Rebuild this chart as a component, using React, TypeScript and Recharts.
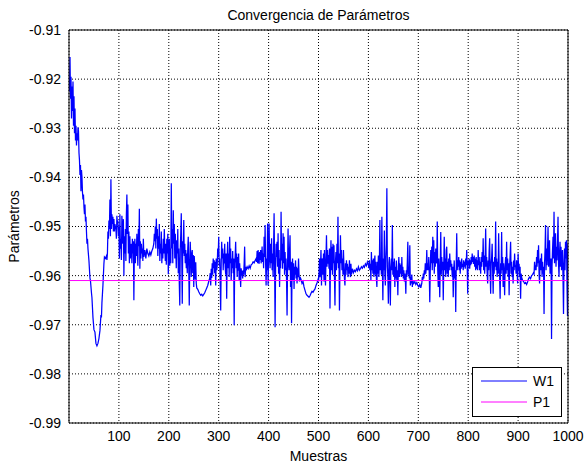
import React from 'react';
import { LineChart, Line, XAxis, YAxis, CartesianGrid } from 'recharts';

const title = 'Convergencia de Parámetros';
const xLabel = 'Muestras';
const yLabel = 'Parámetros';
const legendNames = ['W1', 'P1'];

const xTicks = [100, 200, 300, 400, 500, 600, 700, 800, 900, 1000];
const yTicks = [-0.99, -0.98, -0.97, -0.96, -0.95, -0.94, -0.93, -0.92, -0.91];

const p1Series: [number, number][] = [[1, -0.961], [1000, -0.961]];

const w1Seg1: [number, number][] = [
  [1,-0.9225],[2,-0.9155],[3,-0.924],[4,-0.9195],[5,-0.928],[6,-0.9215],[7,-0.9265],[8,-0.9205],[9,-0.9295],[10,-0.9235],
  [11,-0.931],[12,-0.926],[13,-0.9325],[14,-0.9295],[15,-0.9335],[16,-0.931],[17,-0.9325],[18,-0.9298],[19,-0.9305],[20,-0.935],
  [21,-0.9365],[22,-0.9395],[23,-0.9375],[24,-0.9428],[25,-0.9385],[26,-0.94],[27,-0.943],[28,-0.9445],[29,-0.9435],[30,-0.946],
  [31,-0.9475],[32,-0.9455],[33,-0.949],[34,-0.948],[35,-0.951],[36,-0.9535],[37,-0.9525],[38,-0.9545],[40,-0.957],[42,-0.9605],
  [43,-0.961],[45,-0.9635],[46,-0.9645],[48,-0.9685],[50,-0.971],[52,-0.9715],[54,-0.9738],[56,-0.9743],[58,-0.9738],[60,-0.9728],
  [62,-0.9712],[64,-0.968],[65,-0.9685],[66,-0.9655],[68,-0.962],[70,-0.9575],[71,-0.9562],[73,-0.9565],[75,-0.956],[76,-0.9568],
  [77,-0.9555],[78,-0.951],[79,-0.9525],[80,-0.9488],[81,-0.9505],[82,-0.9445],[83,-0.952],[84,-0.9404],[85,-0.9505],[86,-0.9475],
  [87,-0.9495],[88,-0.948],[89,-0.951],[90,-0.9485],[91,-0.951],[92,-0.9495],[94,-0.9505],[95,-0.9525],[96,-0.9478],[97,-0.9495],
  [98,-0.9488],[99,-0.952],[100,-0.95],[101,-0.9565],[102,-0.9475],[103,-0.9545],[104,-0.9525],[105,-0.9568],[106,-0.9478],[107,-0.951],
  [108,-0.9535],[109,-0.9485],[110,-0.96],[111,-0.952],[112,-0.9555],[113,-0.9505],[114,-0.957],[115,-0.9475],[116,-0.9435],[117,-0.9515],
  [118,-0.9455],[119,-0.9555],[120,-0.951],[121,-0.9575],[122,-0.952],[123,-0.9565],[124,-0.9545],[125,-0.9535],[126,-0.9575],[127,-0.9525],
  [128,-0.9555],[129,-0.953],[130,-0.965],[131,-0.9545],[132,-0.9525],[133,-0.9575],[134,-0.9535],[135,-0.956],[136,-0.9515],[137,-0.9545],
  [138,-0.958],[139,-0.9505],[140,-0.954],[141,-0.9464],[142,-0.9586],[143,-0.953],[144,-0.9565],[145,-0.9535],[146,-0.9555],[147,-0.9545],
  [148,-0.957],[149,-0.9525],[150,-0.9562],[152,-0.9548],[154,-0.9565],[156,-0.9545],[158,-0.9555],[160,-0.956],[162,-0.9552],[164,-0.9558],
  [166,-0.955],[168,-0.9545],[170,-0.9535],[171,-0.9515],[172,-0.953],[173,-0.95],[174,-0.9545],[175,-0.9484],[176,-0.9525],[177,-0.9505],
  [178,-0.956],[179,-0.952],[180,-0.9545],[181,-0.9495],[182,-0.957],[183,-0.9535],[184,-0.9555],[185,-0.951],[186,-0.9575],[187,-0.9545],
  [188,-0.9565],[189,-0.9525],[190,-0.9555],[191,-0.9505],[192,-0.9545],[193,-0.957],[194,-0.9535],[195,-0.9578],[196,-0.9525],[197,-0.9555],
  [198,-0.9515],[199,-0.9597],[200,-0.9545],[201,-0.9525],[202,-0.958],[203,-0.9545],[204,-0.9575],
];

const w1Seg2: [number, number][] = [
  [205,-0.9412],[206,-0.9545],[207,-0.9505],[208,-0.9575],[209,-0.9467],[210,-0.9535],[211,-0.9495],[212,-0.9565],[213,-0.9515],[214,-0.9548],
  [215,-0.9585],[216,-0.9528],[217,-0.9555],[218,-0.9505],[219,-0.9595],[220,-0.9545],[221,-0.9615],[222,-0.9661],[223,-0.9545],[224,-0.9515],
  [225,-0.9473],[226,-0.9565],[227,-0.9657],[228,-0.953],[229,-0.9555],[230,-0.9487],[231,-0.956],[232,-0.9535],[233,-0.9575],[234,-0.9548],
  [235,-0.9585],[236,-0.9555],[237,-0.9595],[238,-0.9545],[239,-0.9521],[240,-0.9585],[241,-0.9661],[242,-0.958],[243,-0.9531],[244,-0.9565],
  [245,-0.9603],[246,-0.9555],[247,-0.9548],[248,-0.9595],[249,-0.9558],[250,-0.9623],[251,-0.956],[252,-0.9582],[253,-0.9608],[254,-0.9573],
  [255,-0.9615],[256,-0.9625],[258,-0.9628],[260,-0.9633],[262,-0.9637],[264,-0.964],[266,-0.9638],[268,-0.9641],[270,-0.9638],[272,-0.9635],
  [274,-0.963],[276,-0.9625],[278,-0.962],[280,-0.9612],[282,-0.9605],[283,-0.9595],[284,-0.962],[285,-0.9586],[286,-0.9605],[287,-0.9575],
  [288,-0.9598],[289,-0.9565],[290,-0.9585],[291,-0.9569],[292,-0.9595],[293,-0.9572],[294,-0.962],[295,-0.9565],[296,-0.9589],[297,-0.958],
  [298,-0.9545],[299,-0.9562],[300,-0.9521],[301,-0.958],[302,-0.9565],[303,-0.9615],[304,-0.9671],[305,-0.9575],[306,-0.9531],[307,-0.9565],
  [308,-0.9545],[309,-0.9589],[310,-0.9555],[311,-0.9575],[312,-0.9535],[313,-0.9582],[314,-0.9598],[315,-0.9555],[316,-0.9647],[317,-0.9565],
  [318,-0.9531],[319,-0.9585],[320,-0.9555],[321,-0.9603],[322,-0.9521],[323,-0.9575],[324,-0.9545],[325,-0.961],[326,-0.9565],[327,-0.9585],
  [328,-0.955],[329,-0.9595],[330,-0.9565],[331,-0.9701],[332,-0.9575],[333,-0.956],[334,-0.9531],[335,-0.9585],[336,-0.9555],[337,-0.9603],
  [338,-0.9562],[339,-0.959],[340,-0.9555],[341,-0.961],[342,-0.9575],[343,-0.9598],[344,-0.9623],[345,-0.9585],[346,-0.96],[347,-0.959],
  [348,-0.9606],[349,-0.9589],[350,-0.9598],[351,-0.9575],[352,-0.9541],[353,-0.9603],[354,-0.9582],[355,-0.9589],[357,-0.9582],[359,-0.9586],
  [361,-0.958],[363,-0.9585],[365,-0.9578],[367,-0.9576],[369,-0.9572],[371,-0.9574],[373,-0.9569],[375,-0.9565],[376,-0.9572],[377,-0.955],
  [378,-0.9575],[379,-0.9548],[380,-0.9569],[381,-0.9576],[382,-0.9552],[383,-0.9568],[384,-0.9548],[385,-0.9575],[386,-0.9562],[387,-0.9541],
  [388,-0.9572],[389,-0.9555],[390,-0.9585],[391,-0.9521],[392,-0.9562],[393,-0.9497],[394,-0.9575],[395,-0.962],[396,-0.9565],
];

const w1Seg3: [number, number][] = [
  [397,-0.9589],[398,-0.9494],[399,-0.962],[400,-0.9555],[401,-0.9494],[402,-0.9565],[403,-0.9585],[404,-0.9535],[405,-0.9575],[406,-0.9524],
  [407,-0.9589],[408,-0.9555],[409,-0.9603],[410,-0.9545],[411,-0.9473],[412,-0.9575],[413,-0.9705],[414,-0.9589],[415,-0.9535],[416,-0.9562],
  [417,-0.9531],[418,-0.9582],[419,-0.9514],[420,-0.9596],[421,-0.9548],[422,-0.9623],[423,-0.9565],[424,-0.9585],[425,-0.947],[426,-0.9569],
  [427,-0.9535],[428,-0.9586],[429,-0.9514],[430,-0.9575],[431,-0.9521],[432,-0.9598],[433,-0.9552],[434,-0.9589],[435,-0.9565],[436,-0.9612],
  [437,-0.9681],[438,-0.9582],[439,-0.9504],[440,-0.9575],[441,-0.9589],[442,-0.9548],[443,-0.9518],[444,-0.9623],[445,-0.9572],[446,-0.9697],
  [447,-0.9589],[448,-0.9565],[449,-0.961],[450,-0.9575],[451,-0.9627],[452,-0.9582],[453,-0.9598],[454,-0.9569],[455,-0.9606],[456,-0.9582],
  [457,-0.9616],[458,-0.9585],[459,-0.9603],[460,-0.9565],[461,-0.9598],[462,-0.9612],[463,-0.9603],[465,-0.9608],[467,-0.9616],[469,-0.9612],
  [471,-0.9623],[473,-0.963],[475,-0.9637],[477,-0.964],[479,-0.9642],[481,-0.9644],[483,-0.9641],[485,-0.9636],[487,-0.9632],[489,-0.9634],
  [491,-0.963],[493,-0.9627],[495,-0.962],[497,-0.9615],[499,-0.9608],[500,-0.9612],[501,-0.9596],[502,-0.9565],[503,-0.9603],[504,-0.9582],
  [505,-0.9548],[506,-0.962],[507,-0.9572],[508,-0.9565],[509,-0.9598],[510,-0.9555],[511,-0.9612],[512,-0.9548],[513,-0.9589],[514,-0.962],
  [515,-0.9565],[516,-0.9518],[517,-0.9582],[518,-0.9548],[519,-0.9576],[520,-0.9558],[521,-0.9586],[522,-0.9545],[523,-0.9667],[524,-0.9572],
  [525,-0.9528],[526,-0.9589],[527,-0.9541],[528,-0.9598],[529,-0.9535],[530,-0.9575],[531,-0.9538],[532,-0.9603],[533,-0.9661],[534,-0.9572],
  [535,-0.9552],[536,-0.9589],[537,-0.9535],[538,-0.9575],[539,-0.948],[540,-0.9585],[541,-0.9555],[542,-0.9671],[543,-0.9582],[544,-0.9518],
  [545,-0.9575],[546,-0.9548],[547,-0.9589],[548,-0.9565],[549,-0.9598],[550,-0.9548],[551,-0.9582],[552,-0.9606],[553,-0.962],[554,-0.9575],
  [555,-0.9598],[556,-0.9569],[557,-0.9589],[558,-0.9576],[559,-0.9603],[560,-0.9582],[561,-0.9596],[562,-0.9569],[563,-0.9589],[564,-0.9603],
  [565,-0.9576],[566,-0.9598],[568,-0.9586],[570,-0.9594],[572,-0.9589],[574,-0.9592],[576,-0.9586],[578,-0.959],[580,-0.9582],[582,-0.9589],
  [584,-0.9586],[586,-0.9582],[588,-0.9585],[590,-0.958],[592,-0.9583],[594,-0.9576],[596,-0.958],[598,-0.9572],
];

const w1Seg4: [number, number][] = [
  [600,-0.9578],[601,-0.9585],[602,-0.9569],[603,-0.9589],[604,-0.9576],[605,-0.961],[606,-0.9552],[607,-0.9589],[608,-0.9569],[609,-0.9596],
  [610,-0.9565],[611,-0.9603],[612,-0.9575],[613,-0.9559],[614,-0.9598],[615,-0.9572],[616,-0.9606],[617,-0.9623],[618,-0.9572],[619,-0.9596],
  [620,-0.9559],[621,-0.9603],[622,-0.9575],[623,-0.9487],[624,-0.9589],[625,-0.9565],[626,-0.9598],[627,-0.948],[628,-0.9582],[629,-0.965],
  [630,-0.9565],[631,-0.9589],[632,-0.9508],[633,-0.9598],[634,-0.962],[635,-0.9565],[636,-0.9535],[637,-0.9422],[638,-0.9582],[639,-0.9603],
  [640,-0.9657],[641,-0.9575],[642,-0.9562],[643,-0.961],[644,-0.9661],[645,-0.9582],[646,-0.9565],[647,-0.9589],[648,-0.9497],[649,-0.9598],
  [650,-0.9572],[651,-0.9603],[652,-0.9565],[653,-0.9623],[654,-0.9582],[655,-0.9606],[656,-0.9569],[657,-0.9612],[658,-0.9589],[659,-0.964],
  [660,-0.9582],[661,-0.9562],[662,-0.9603],[663,-0.9575],[664,-0.9596],[665,-0.9578],[666,-0.9603],[667,-0.9562],[668,-0.9598],[669,-0.9582],
  [670,-0.9606],[671,-0.9589],[672,-0.9612],[673,-0.9596],[674,-0.9606],[675,-0.9637],[676,-0.9589],[677,-0.9603],[678,-0.9572],[679,-0.9531],
  [680,-0.9598],[681,-0.9582],[682,-0.9606],[683,-0.9538],[684,-0.962],[685,-0.9603],[686,-0.9616],[687,-0.9598],[688,-0.9623],[689,-0.961],
  [691,-0.9616],[693,-0.9612],[695,-0.9618],[697,-0.9614],[699,-0.962],[701,-0.9623],[703,-0.9618],[705,-0.9625],[707,-0.9616],[708,-0.9603],
  [709,-0.961],[710,-0.9596],[711,-0.9606],[712,-0.9589],[713,-0.9598],[714,-0.9575],[715,-0.9596],[716,-0.9582],[717,-0.9548],[718,-0.9589],
  [719,-0.9575],[720,-0.9589],[721,-0.9562],[722,-0.9598],[723,-0.9654],[724,-0.9589],[725,-0.9548],[726,-0.9575],[727,-0.9541],[728,-0.9589],
  [729,-0.9521],[730,-0.9575],[731,-0.9528],[732,-0.9596],[733,-0.9552],[734,-0.9582],[735,-0.9545],[736,-0.9569],[737,-0.9575],[738,-0.949],
  [739,-0.9589],[740,-0.9623],[741,-0.9565],[742,-0.9596],[743,-0.9644],[744,-0.9575],[745,-0.9511],[746,-0.9598],[747,-0.9562],[748,-0.9589],
  [749,-0.9572],[750,-0.965],[751,-0.9582],[752,-0.9521],[753,-0.9589],[754,-0.9565],[755,-0.9603],[756,-0.9548],[757,-0.9541],[758,-0.9596],
  [759,-0.9572],[760,-0.9603],[761,-0.9565],[762,-0.9589],[763,-0.9555],[764,-0.9582],[765,-0.9569],[766,-0.9589],[767,-0.9576],[768,-0.9603],
  [769,-0.9582],[770,-0.9644],[771,-0.9589],[772,-0.9569],[773,-0.9606],[774,-0.9589],[775,-0.9674],[776,-0.9582],[777,-0.9514],[778,-0.9589],
  [779,-0.9569],[780,-0.9582],[781,-0.9562],[782,-0.9589],[783,-0.9569],[784,-0.9596],[785,-0.9572],[786,-0.9586],[787,-0.9565],[788,-0.9582],
  [789,-0.9576],[790,-0.9589],[791,-0.9569],[792,-0.9582],[793,-0.9572],[794,-0.9586],[795,-0.9565],[796,-0.9579],[797,-0.9548],[798,-0.9582],
  [799,-0.9637],
];

const w1Seg5: [number, number][] = [
  [800,-0.9569],[801,-0.9579],[802,-0.9565],[803,-0.9586],[804,-0.9569],[805,-0.9579],[806,-0.9562],[807,-0.9576],[808,-0.9555],[809,-0.9572],
  [810,-0.9562],[811,-0.9576],[812,-0.9559],[813,-0.9582],[814,-0.9565],[815,-0.9589],[816,-0.9562],[817,-0.9586],[818,-0.9569],[819,-0.9589],
  [820,-0.9548],[821,-0.9579],[822,-0.9562],[823,-0.9589],[824,-0.9572],[825,-0.9596],[826,-0.9562],[827,-0.9582],[828,-0.9552],[829,-0.9572],
  [830,-0.9524],[831,-0.9589],[832,-0.9559],[833,-0.9596],[834,-0.9565],[835,-0.9504],[836,-0.9582],[837,-0.9562],[838,-0.9596],[839,-0.9616],
  [840,-0.9569],[841,-0.9589],[842,-0.9548],[843,-0.9524],[844,-0.9596],[845,-0.9637],[846,-0.9575],[847,-0.9562],[848,-0.9535],[849,-0.9589],
  [850,-0.9637],[851,-0.9572],[852,-0.9596],[853,-0.9562],[854,-0.9582],[855,-0.949],[856,-0.9589],[857,-0.9565],[858,-0.9603],[859,-0.9572],
  [860,-0.9596],[861,-0.9514],[862,-0.9582],[863,-0.9606],[864,-0.9647],[865,-0.9575],[866,-0.9596],[867,-0.9511],[868,-0.9589],[869,-0.9562],
  [870,-0.9623],[871,-0.9575],[872,-0.9598],[873,-0.964],[874,-0.9582],[875,-0.9562],[876,-0.9596],[877,-0.9531],[878,-0.9589],[879,-0.9565],
  [880,-0.9603],[881,-0.9575],[882,-0.964],[883,-0.9582],[884,-0.9559],[885,-0.9531],[886,-0.9596],[887,-0.9572],[888,-0.9603],[889,-0.9582],
  [890,-0.9616],[891,-0.9569],[892,-0.9589],[893,-0.9555],[894,-0.9582],[895,-0.9579],[896,-0.9596],[897,-0.9569],[898,-0.9589],[899,-0.9616],
  [900,-0.9555],[901,-0.9589],[902,-0.9576],[903,-0.9603],[904,-0.9582],[905,-0.9647],[906,-0.9596],[907,-0.9603],[908,-0.9606],[909,-0.961],
  [911,-0.9612],[913,-0.9616],[915,-0.9614],[917,-0.9618],[919,-0.9613],[921,-0.9606],[923,-0.9603],[925,-0.9606],[927,-0.96],[929,-0.9598],
  [931,-0.9594],[932,-0.9596],[933,-0.9572],[934,-0.9589],[935,-0.9579],[936,-0.9589],[937,-0.9562],[938,-0.9582],[939,-0.9548],[940,-0.9575],
  [941,-0.9538],[942,-0.9596],[943,-0.9616],[944,-0.9572],[945,-0.9565],[946,-0.9589],[947,-0.9555],[948,-0.9603],[949,-0.9572],[950,-0.9596],
  [951,-0.9582],[952,-0.9678],[953,-0.9575],[954,-0.9548],[955,-0.9497],[956,-0.9589],[957,-0.9545],[958,-0.9579],[959,-0.9548],[960,-0.95],
  [961,-0.9582],[962,-0.9562],[963,-0.9528],[964,-0.9596],[965,-0.9575],[966,-0.9565],[967,-0.9729],[968,-0.9582],[969,-0.9548],[970,-0.9521],
  [971,-0.9565],[972,-0.947],[973,-0.9575],[974,-0.9545],[975,-0.9514],[976,-0.9582],[977,-0.9541],[978,-0.9569],[979,-0.9528],[980,-0.948],
  [981,-0.9575],[982,-0.9603],[983,-0.9555],[984,-0.9531],[985,-0.9582],[986,-0.9541],[987,-0.9589],[988,-0.9562],[989,-0.9548],[990,-0.9606],
  [991,-0.9678],[992,-0.9575],[993,-0.9545],[994,-0.9589],[995,-0.9531],[996,-0.9565],[997,-0.9528],[998,-0.962],[999,-0.9682],[1000,-0.9535],
];

const w1Data = [...w1Seg1, ...w1Seg2, ...w1Seg3, ...w1Seg4, ...w1Seg5].map(([m, v]) => ({ m, w1: v }));
const p1Data = p1Series.map(([m, v]) => ({ m, p1: v }));

const FONT = '"Liberation Sans", Arial, Helvetica, sans-serif';
const tickStyle = { fill: '#000', fontSize: 14, fontFamily: FONT };

export default function App() {
  return (
    <div style={{ position: 'absolute', left: 0, top: 0, width: 584, height: 466, background: '#fff' }}>
      <LineChart width={584} height={466} margin={{ top: 30, right: 16, bottom: 13, left: 0 }}>
        <CartesianGrid stroke="#000" strokeDasharray="1 2" strokeWidth={1} />
        <XAxis
          dataKey="m"
          type="number"
          domain={[0, 1000]}
          ticks={xTicks}
          interval={0}
          height={30}
          tickLine={false}
          axisLine={{ stroke: '#000' }}
          tick={tickStyle}
          allowDataOverflow
        />
        <XAxis xAxisId="bin" dataKey="m" type="number" domain={[0, 1000]} ticks={xTicks} interval={0} mirror tick={false} tickSize={5} tickLine={{ stroke: '#000' }} axisLine={false} height={30} allowDataOverflow />
        <XAxis xAxisId="top" orientation="top" dataKey="m" type="number" domain={[0, 1000]} ticks={xTicks} interval={0} mirror tick={false} tickSize={5} tickLine={{ stroke: '#000' }} axisLine={{ stroke: '#000' }} height={30} allowDataOverflow />
        <YAxis
          type="number"
          domain={[-0.99, -0.91]}
          ticks={yTicks}
          interval={0}
          width={69}
          tickLine={false}
          axisLine={{ stroke: '#000' }}
          tick={tickStyle}
          tickFormatter={(v: number) => v.toFixed(2)}
          allowDataOverflow
        />
        <YAxis yAxisId="lin" type="number" domain={[-0.99, -0.91]} ticks={yTicks} interval={0} mirror tick={false} tickSize={5} tickLine={{ stroke: '#000' }} axisLine={false} width={69} allowDataOverflow />
        <YAxis yAxisId="right" orientation="right" type="number" domain={[-0.99, -0.91]} ticks={yTicks} interval={0} mirror tick={false} tickSize={5} tickLine={{ stroke: '#000' }} axisLine={{ stroke: '#000' }} width={16} allowDataOverflow />
        <Line data={w1Data} dataKey="w1" type="linear" stroke="#0000ff" strokeWidth={1.25} dot={false} activeDot={false} isAnimationActive={false} />
        <Line data={p1Data} dataKey="p1" type="linear" stroke="#ff00ff" strokeWidth={1} dot={false} activeDot={false} isAnimationActive={false} />
      </LineChart>
      <svg width={584} height={466} style={{ position: 'absolute', left: 0, top: 0, pointerEvents: 'none' }}>
        <text x={318.5} y={20} textAnchor="middle" fontSize={14} fontFamily={FONT} fill="#000">{title}</text>
        <text x={318.5} y={461} textAnchor="middle" fontSize={14} fontFamily={FONT} fill="#000">{xLabel}</text>
        <text x={19} y={226.5} textAnchor="middle" fontSize={14} fontFamily={FONT} fill="#000" transform="rotate(-90 19 226.5)">{yLabel}</text>
        <rect x={472.5} y={367.5} width={89} height={49} fill="#fff" stroke="#000" strokeWidth={1} />
        <line x1={481} x2={527} y1={381} y2={381} stroke="#0000ff" strokeWidth={1} />
        <line x1={481} x2={527} y1={402} y2={402} stroke="#ff00ff" strokeWidth={1} />
        <text x={533} y={386} fontSize={14} fontFamily={FONT} fill="#000">{legendNames[0]}</text>
        <text x={533} y={407} fontSize={14} fontFamily={FONT} fill="#000">{legendNames[1]}</text>
      </svg>
    </div>
  );
}
